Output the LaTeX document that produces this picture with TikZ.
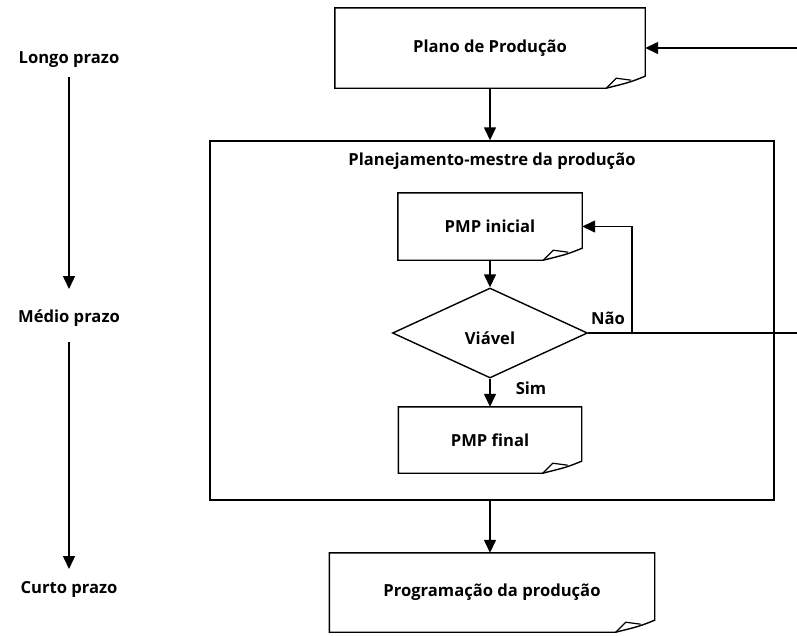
\documentclass[tikz,border=0pt]{standalone}
\usepackage{fontspec}
\usetikzlibrary{arrows.meta,shapes.geometric,calc}
\newfontfamily\labfont{Open Sans}
\begin{document}
\begin{tikzpicture}[x=1pt,y=-1pt,
  every node/.style={font=\labfont\bfseries\fontsize{16.6}{19}\selectfont, inner sep=0pt},
  line/.style={line width=1.4pt, line join=miter},
  arr/.style={line, -{Triangle[length=13pt,width=12pt]}},
  decision/.style={diamond, draw, line width=1.4pt, aspect=2.17, minimum width=195pt, minimum height=90pt, inner sep=0pt},
  tag/.style={font=\labfont\bfseries\fontsize{16.6}{19}\selectfont}
]
\useasboundingbox (0,0) rectangle (797,635);

% document shape: frame with a curled lower-right corner
\newcommand{\docoutline}[1]{%
  \draw[line] ($(#1.south east)+(-39,0)$) -- (#1.south west) -- (#1.north west)
    -- (#1.north east) -- ($(#1.south east)+(0,-12)$)
    .. controls ($(#1.south east)+(-15,-6)$) .. ($(#1.south east)+(-39,0)$);
  \draw[line width=1.2pt, line join=round] ($(#1.south east)+(-39,0)$)
    -- ($(#1.south east)+(-29,-10)$) -- ($(#1.south east)+(-14,-8)$);
}

% time horizon column
\node (longo) at (69,60) {Longo prazo};
\node (medio) at (69,318) {Médio prazo};
\node (curto) at (69,589) {Curto prazo};
\draw[arr, shorten <=17pt, shorten >=29pt] (longo.center) -- (medio.center);
\draw[arr, shorten <=24pt, shorten >=20pt] (medio.center) -- (curto.center);

% main flow
\coordinate (axis) at (490,0);

\node[minimum width=310pt, minimum height=80pt] (plano) at (490,48) {Plano de Produção};
\docoutline{plano}

\node[draw, line width=1.4pt, minimum width=564pt, minimum height=359pt] (master) at (492,320.5) {};
\node (mtitle) at (492,161) {Planejamento-mestre da produção};

\node[minimum width=184pt, minimum height=67pt] (pmpi) at (490,226.5) {PMP inicial};
\docoutline{pmpi}

\node[decision] (viavel) at (490,333) {};
\node (vtext) at (490,338) {Viável};

\node[minimum width=183pt, minimum height=66pt] (pmpf) at (490,440) {PMP final};
\docoutline{pmpf}

\node[minimum width=325pt, minimum height=79pt] (prog) at (492,592.5) {Programação da produção};
\docoutline{prog}

\node[tag] (nao) at (608,318) {Não};
\node[tag] (sim) at (531,388) {Sim};

\coordinate (feedin) at (797,48);
\coordinate (feedout) at (797,333);
\coordinate (loopup) at (632,333);

\draw[arr] (feedin) -- (plano.east);
\draw[arr] (plano.south) -- (plano.south |- master.north);
\draw[arr] (pmpi.south) -- (viavel.north);
\draw[arr] (viavel.south) -- (pmpf.north);
\draw[arr] (master.south -| axis) -- (prog.north -| axis);
\draw[line] (viavel.east) -- (feedout);
\draw[arr] (loopup) |- (pmpi.east);
\end{tikzpicture}
\end{document}
